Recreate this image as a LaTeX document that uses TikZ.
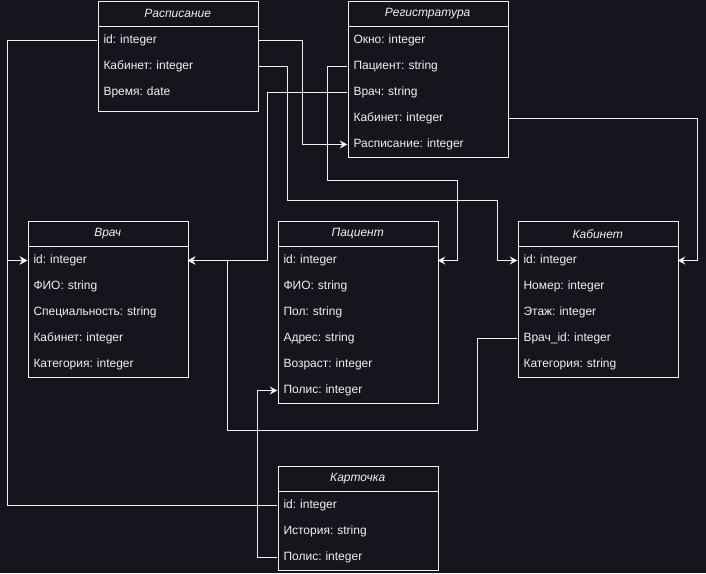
\documentclass[tikz,border=0pt]{standalone}
\usepackage{fontspec}
\setmainfont{Liberation Sans}
\usetikzlibrary{arrows.meta,calc}
\frenchspacing

\definecolor{bgc}{HTML}{18141D}
\definecolor{fgc}{HTML}{F0F0F0}

\tikzset{
  tbl/.style={draw=fgc, fill=bgc, line width=1pt, minimum width=160pt,
    anchor=north west, inner sep=0pt},
  hdr/.style={text=fgc, minimum width=160pt, minimum height=26pt,
    anchor=north west, inner sep=0pt, font=\fontsize{12pt}{14pt}\selectfont\itshape},
  fld/.style={text=fgc, text width=148pt, inner xsep=6pt, inner ysep=0pt,
    minimum height=26pt, align=left, font=\fontsize{12pt}{14pt}\selectfont},
  conn/.style={draw=fgc, line width=1pt},
  arr/.style={conn, -{Stealth[length=7.5pt,width=8pt,inset=2.5pt]}},
  sep/.style={draw=fgc, line width=1pt}
}

\begin{document}
\begin{tikzpicture}[x=1pt,y=-1pt]
\fill[bgc] (-0.5,-0.5) rectangle (705.5,572.5);
\useasboundingbox (-0.5,-0.5) rectangle (705.5,572.5);

% ---------- Расписание ----------
\node[tbl, minimum height=110pt] (rasp) at (97,0) {};
\node[hdr] (rasp-h) at (97,0) {Расписание};
\draw[sep] (rasp-h.south west) -- (rasp-h.south east);
\node[fld] (rasp-id)  at (177,40) {id: integer};
\node[fld] (rasp-kab) at (177,66) {Кабинет: integer};
\node[fld] (rasp-time) at (177,92) {Время: date};

% ---------- Регистратура ----------
\node[tbl, minimum height=156pt] (reg) at (347,0) {};
\node[hdr] (reg-h) at (347,0) {Регистратура};
\draw[sep] (reg-h.south west) -- (reg-h.south east);
\node[fld] (reg-okno)  at (427,40)  {Окно: integer};
\node[fld] (reg-pac)   at (427,66)  {Пациент: string};
\node[fld] (reg-vrach) at (427,92)  {Врач: string};
\node[fld] (reg-kab)   at (427,118) {Кабинет: integer};
\node[fld] (reg-rasp)  at (427,144) {Расписание: integer};

% ---------- Врач ----------
\node[tbl, minimum height=156pt] (vrach) at (27,220) {};
\node[hdr] (vrach-h) at (27,220) {Врач};
\draw[sep] (vrach-h.south west) -- (vrach-h.south east);
\node[fld] (vrach-id)   at (107,260) {id: integer};
\node[fld] (vrach-fio)  at (107,286) {ФИО: string};
\node[fld] (vrach-spec) at (107,312) {Специальность: string};
\node[fld] (vrach-kab)  at (107,338) {Кабинет: integer};
\node[fld] (vrach-cat)  at (107,364) {Категория: integer};

% ---------- Пациент ----------
\node[tbl, minimum height=182pt] (pac) at (277,220) {};
\node[hdr] (pac-h) at (277,220) {Пациент};
\draw[sep] (pac-h.south west) -- (pac-h.south east);
\node[fld] (pac-id)   at (357,260) {id: integer};
\node[fld] (pac-fio)  at (357,286) {ФИО: string};
\node[fld] (pac-pol)  at (357,312) {Пол: string};
\node[fld] (pac-adr)  at (357,338) {Адрес: string};
\node[fld] (pac-age)  at (357,364) {Возраст: integer};
\node[fld] (pac-polis) at (357,390) {Полис: integer};

% ---------- Кабинет ----------
\node[tbl, minimum height=156pt] (kab) at (517,220) {};
\node[hdr] (kab-h) at (517,220) {Кабинет};
\draw[sep] (kab-h.south west) -- (kab-h.south east);
\node[fld] (kab-id)    at (597,260) {id: integer};
\node[fld] (kab-num)   at (597,286) {Номер: integer};
\node[fld] (kab-floor) at (597,312) {Этаж: integer};
\node[fld] (kab-vid)   at (597,338) {Врач\_id: integer};
\node[fld] (kab-cat)   at (597,364) {Категория: string};

% ---------- Карточка ----------
\node[tbl, minimum height=104pt] (kart) at (277,465) {};
\node[hdr] (kart-h) at (277,465) {Карточка};
\draw[sep] (kart-h.south west) -- (kart-h.south east);
\node[fld] (kart-id)    at (357,505) {id: integer};
\node[fld] (kart-hist)  at (357,531) {История: string};
\node[fld] (kart-polis) at (357,557) {Полис: integer};

% ---------- связи ----------
\draw[arr] (rasp-id.west) -- ++(-90,0) |- (vrach-id.west);
\draw[arr] (kart-id.west) -- ++(-270,0) |- (vrach-id.west);
\draw[arr] (rasp-id.east) -- ++(45,0) |- (reg-rasp.west);
\draw[arr] (rasp-kab.east) -- ++(30,0) |- ($(kab-id.west)+(-20,-60)$) |- (kab-id.west);
\draw[arr] (reg-pac.west) -- ++(-20,0) |- ($(pac-id.east)+(20,-80)$) |- (pac-id.east);
\draw[arr] (reg-vrach.west) -- ++(-80,0) |- (vrach-id.east);
\draw[arr] (reg-kab.east) -- ++(190,0) |- (kab-id.east);
\draw[arr] (kab-vid.west) -- ++(-40,0) |- ($(vrach-id.east)+(40,170)$) |- (vrach-id.east);
\draw[arr] (kart-polis.west) -- ++(-20,0) |- (pac-polis.west);
\end{tikzpicture}
\end{document}
